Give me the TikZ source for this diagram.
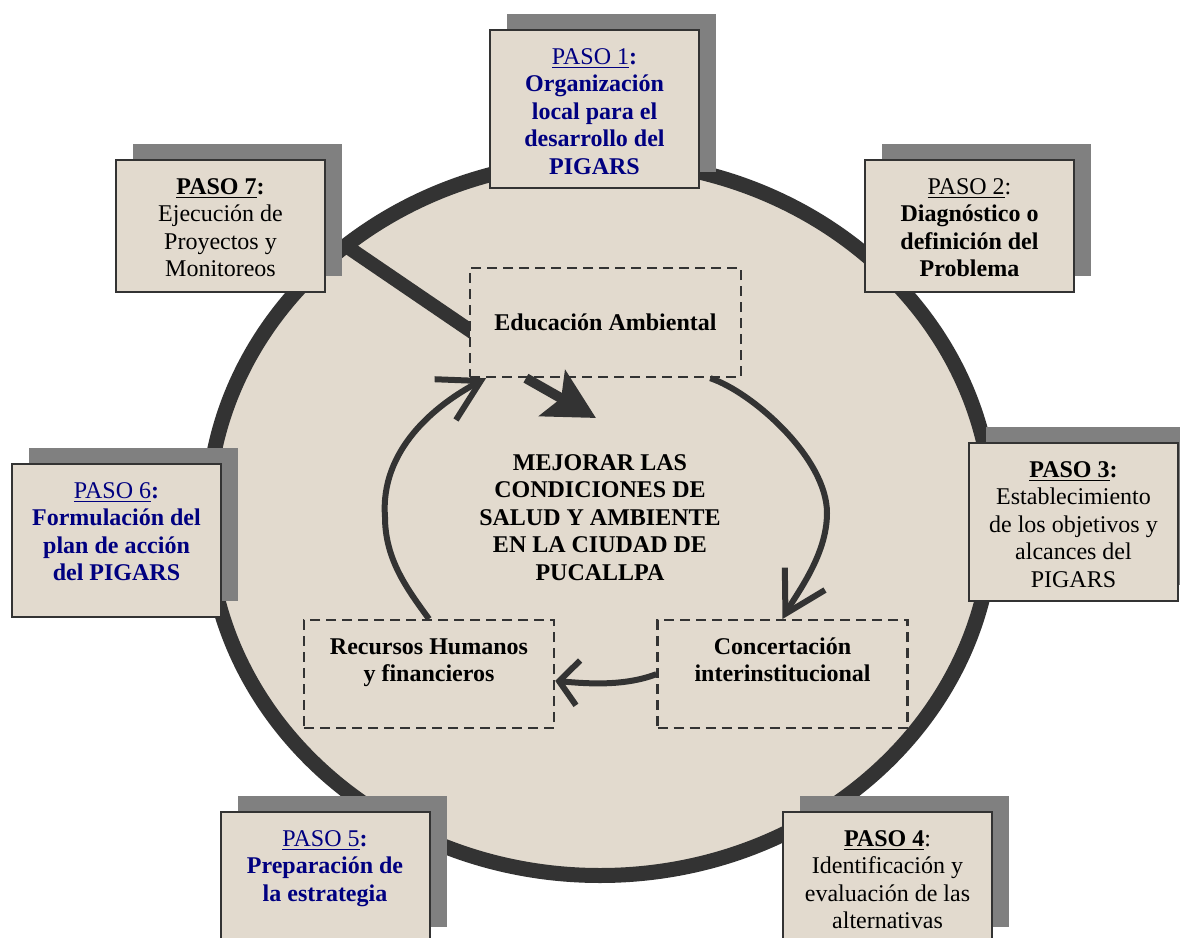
\documentclass[tikz,border=0pt]{standalone}
\usepackage{fontspec}
\setmainfont{Liberation Serif}
\usetikzlibrary{arrows.meta,shadows}

\definecolor{paper}{RGB}{226,218,206}
\definecolor{ink}{RGB}{51,51,51}
\definecolor{shade}{RGB}{128,128,128}
\definecolor{navy}{RGB}{0,0,128}

\pgfdeclarelayer{bg}
\pgfsetlayers{bg,main}

\tikzset{
  paso_box/.style={draw=ink, line width=1pt, fill=paper, anchor=north, align=flush center,
    text width=100pt, minimum width=104.5pt, inner sep=0pt, text height=17pt,
    font=\fontsize{12pt}{13.8pt}\selectfont,
    drop shadow={shadow xshift=8.5pt, shadow yshift=8pt, opacity=1, fill=shade}},
  aim_box/.style={draw=ink, line width=1.2pt, dash pattern=on 5pt off 3pt, fill=paper,
    align=flush center, inner sep=0pt, font=\fontsize{12pt}{13.8pt}\selectfont\bfseries},
  cycle_arrow/.style={draw=ink, line width=3pt, -{Straight Barb[length=20pt,width=23pt]}}
}

\begin{document}
\begin{tikzpicture}[x=0.5pt, y=-0.5pt]
    \useasboundingbox (0,0) rectangle (1180,938);

    \node[paso_box, text depth=62pt, text=navy] (p1) at (594.5,29) {\underline{PASO 1}\textbf{:}\\ \bfseries Organización\\ local para el\\ desarrollo del\\ PIGARS};
    \node[paso_box, text depth=49pt] (p2) at (969.5,159) {\underline{PASO 2}:\\ \bfseries Diagnóstico o\\ definición del\\ Problema};
    \node[paso_box, text depth=62pt] (p3) at (1073.5,442) {\textbf{\underline{PASO 3}:}\\ Establecimiento\\ de los objetivos y\\ alcances del\\ PIGARS};
    \node[paso_box, text depth=48.5pt] (p4) at (887.5,811) {\textbf{\underline{PASO 4}}:\\ Identificación y\\ evaluación de las\\ alternativas};
    \node[paso_box, text depth=48.5pt, text=navy] (p5) at (325,811) {\underline{PASO 5}\textbf{:}\\ \bfseries Preparación de\\ la estrategia};
    \node[paso_box, text depth=59.5pt, text=navy] (p6) at (116.5,463) {\underline{PASO 6}\textbf{:}\\ \bfseries Formulación del\\ plan de acción\\ del PIGARS};
    \node[paso_box, text depth=49pt] (p7) at (220.5,159) {\textbf{\underline{PASO 7}:}\\ Ejecución de\\ Proyectos y\\ Monitoreos};

    \node[aim_box, minimum width=135.5pt, minimum height=54.5pt] (edu) at (605.5,322.5) {Educación Ambiental};
    \node[aim_box, anchor=north, text width=120pt, minimum width=125pt, text height=17pt, text depth=37pt] (rec) at (429,619) {Recursos Humanos\\ y financieros};
    \node[aim_box, anchor=north, text width=120pt, minimum width=125pt, text height=17pt, text depth=37pt] (conc) at (782.5,619) {Concertación\\ interinstitucional};

    \node[align=flush center, font=\fontsize{12pt}{13.8pt}\selectfont\bfseries] (goal) at (600,517.5) {MEJORAR LAS\\ CONDICIONES DE\\ SALUD Y AMBIENTE\\ EN LA CIUDAD DE\\ PUCALLPA};

    \coordinate (ring_nw) at (346,246);
    \coordinate (push) at (596,418);

    \begin{pgfonlayer}{bg}
    \fill[white] (0,0) rectangle (1180,938);
    \draw[draw=ink, line width=7.5pt, fill=paper] (600,518) ellipse [x radius=196.25pt, y radius=178.75pt];
    \draw[draw=ink, line width=7pt, shorten >=-6pt] (ring_nw) -- (edu.183);
    \end{pgfonlayer}

    \draw[cycle_arrow] (rec.north) .. controls (408,590) and (385,560) .. (385,517) .. controls (380,450) and (435,405) .. (edu.205);
    \draw[cycle_arrow] (edu.332) .. controls (752,392) and (827,458) .. (827,513) .. controls (827,555) and (797,593) .. (conc.north);
    \draw[cycle_arrow, -{Straight Barb[length=9.5pt,width=22.5pt]}] (conc.west) .. controls (625,686) and (590,684) .. (rec.357);
    \draw[draw=ink, line width=5pt, -{Stealth[length=25pt,width=26pt,inset=5pt]}] (edu.215) -- (push);
\end{tikzpicture}
\end{document}
